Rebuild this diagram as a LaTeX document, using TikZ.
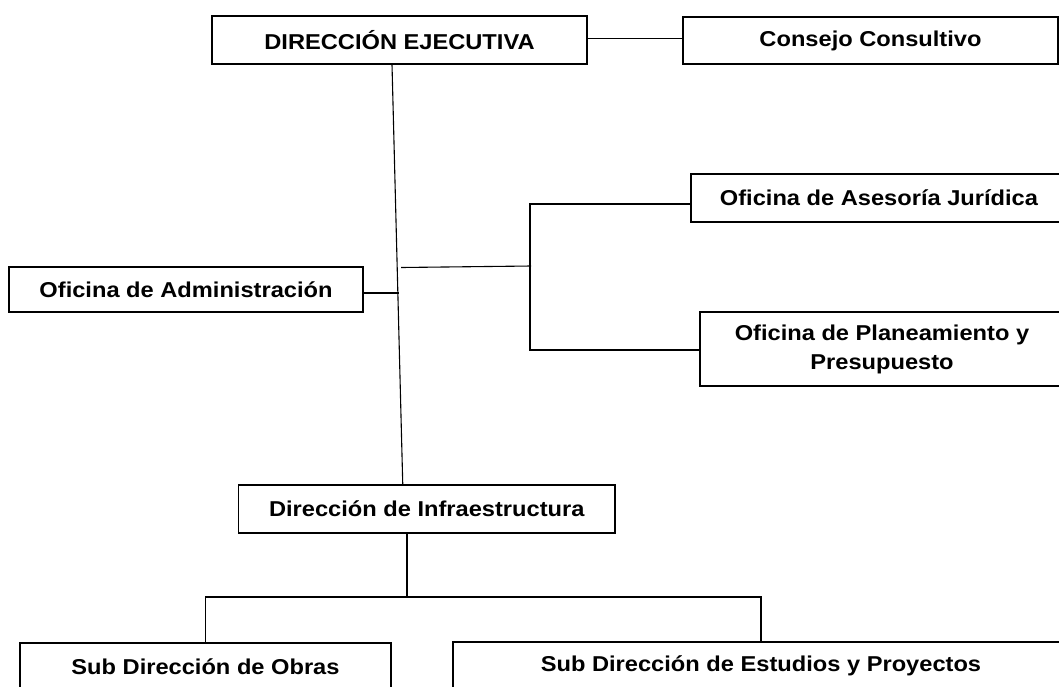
\documentclass[tikz,border=0pt]{standalone}
\usepackage{fontspec}
\setmainfont{Liberation Sans}[FakeStretch=1.1]

\tikzset{every picture/.style={line width=0.75pt}}

\begin{document}
\begin{tikzpicture}[x=1pt,y=1pt,yscale=-1,xscale=1,
  caja/.style={draw, line width=1.1pt, inner sep=0pt, align=center,
    font=\bfseries\fontsize{21.5}{29}\selectfont},
  enlace/.style={line width=1.1pt}]
\useasboundingbox (0,0) rectangle (1059,686);
\clip (0,0) rectangle (1059,686);

%Shape: Rectangle [id:de]
\node (de) at (399.5,40) [caja, minimum width=375, minimum height=48] {DIRECCIÓN EJECUTIVA};
%Shape: Rectangle [id:cc]
\node (cc) at (870.5,40.5) [caja, minimum width=375, minimum height=47] {Consejo Consultivo};
%Shape: Rectangle [id:adm]
\node (adm) at (186,289.5) [caja, minimum width=354, minimum height=45] {Oficina de Administración};
%Shape: Rectangle [id:aj]
\node (aj) at (879,198) [caja, minimum width=376, minimum height=48] {Oficina de Asesoría Jurídica};
%Shape: Rectangle [id:pp]
\node (pp) at (882,349) [caja, minimum width=364, minimum height=74] {Oficina de Planeamiento y\\Presupuesto};
%Shape: Rectangle [id:di]
\node (di) at (426.75,509) [caja, minimum width=376.5, minimum height=48] {Dirección de Infraestructura};
%Shape: Rectangle [id:ob]
\node (ob) at (205.5,667) [caja, minimum width=371, minimum height=48] {Sub Dirección de Obras};
%Shape: Rectangle [id:es]
\node (es) at (761,666) [caja, minimum width=616, minimum height=48] {Sub Dirección de Estudios y Proyectos};

% puntos de union
\coordinate (ta) at (399,293);
\coordinate (b1) at (401,267.5);
\coordinate (b2) at (531,266);
\coordinate (bt) at (530,204);
\coordinate (bb) at (530,350);
\coordinate (s0) at (407,597);

%Straight Lines
\draw [enlace] (de.east |- 0,38.5) -- (cc.west |- 0,38.5);
\draw [enlace] ([xshift=-7.5]de.south) -- ([xshift=-24]di.north); % tronco
\draw [enlace] (adm.east |- ta) -- (ta);
\draw [enlace] (b1) -- (b2);
\draw [enlace] (aj.west |- bt) -- (bt) -- (bb) -- (pp.west |- bb);
\draw [enlace] (di.south -| s0) -- (s0);
\draw [enlace] (ob.north) |- (s0) -| (es.north);

\end{tikzpicture}
\end{document}
